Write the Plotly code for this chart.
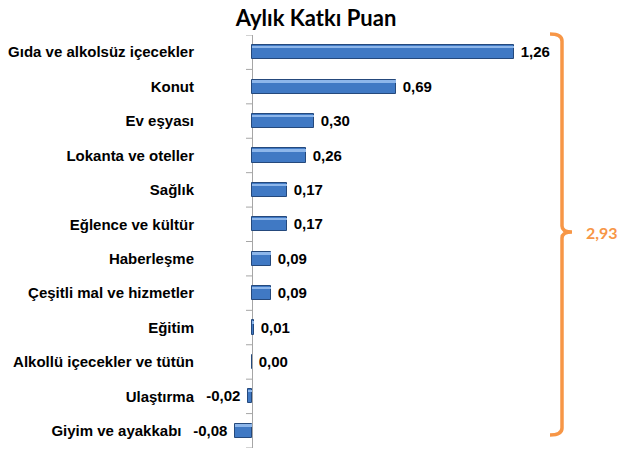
import plotly.graph_objects as go

categories = ["Gıda ve alkolsüz içecekler", "Konut", "Ev eşyası", "Lokanta ve oteller",
              "Sağlık", "Eğlence ve kültür", "Haberleşme", "Çeşitli mal ve hizmetler",
              "Eğitim", "Alkollü içecekler ve tütün", "Ulaştırma", "Giyim ve ayakkabı"]
values = [1.26, 0.69, 0.30, 0.26, 0.17, 0.17, 0.09, 0.09, 0.01, 0.00, -0.02, -0.08]
total_label = "2,93"
title_text = "Aylık Katkı Puan"

W, H = 623, 449
ML, MR, MT, MB = 205, 0, 35, 1
zero_px = 252
scale = 208.0
x_lo = -(zero_px - ML) / scale
x_hi = x_lo + (W - ML - MR) / scale

NB = "\u00a0"

def fmt(v):
    s = f"{v:.2f}".replace(".", ",")
    return s + NB if v < 0 else NB + s

idx = list(range(len(categories)))
labels = [fmt(v) for v in values]

# category labels next to wide negative data labels are pushed left (as Excel does)
tick_text = []
for c, v in zip(categories, values):
    pad = NB * 3 if v <= -0.05 else ""
    tick_text.append(f"<b>{c}</b>{pad}")

LBL_FONT = "Liberation Sans, Arial, sans-serif"

fig = go.Figure()
# main bar body
fig.add_trace(go.Bar(
    y=idx, x=values, orientation="h", width=0.41,
    marker=dict(color="#4079C4", line=dict(color="#25497C", width=1)),
    text=labels, textposition="outside", cliponaxis=False, constraintext="none",
    textfont=dict(family=LBL_FONT, size=15, color="#000000", weight="bold"),
    hoverinfo="skip", showlegend=False,
))
# top highlight band
fig.add_trace(go.Bar(
    y=idx, x=values, orientation="h", width=0.07, offset=-0.185,
    marker=dict(color="#8DB6EA", line=dict(width=0)),
    hoverinfo="skip", showlegend=False,
))

# category tick marks on the zero axis (between categories)
for k in range(len(categories) + 1):
    fig.add_shape(type="line", xref="x", yref="y", x0=-6 / scale, x1=0,
                  y0=k - 0.5, y1=k - 0.5, line=dict(color="#A6A6A6", width=1))

def px(xp, yp):
    return (xp - ML) / (W - ML - MR), (H - MB - yp) / (H - MT - MB)

pts = {
    "a": px(550, 34), "b": px(562, 34), "c": px(562, 41),
    "d": px(562, 226), "e": px(562, 232), "f": px(572, 232),
    "g": px(562, 238), "h": px(562, 428), "i": px(562, 435), "j": px(550, 435),
}
P = lambda k: f"{pts[k][0]:.5f},{pts[k][1]:.5f}"
path = (f"M {P('a')} Q {P('b')} {P('c')} L {P('d')} Q {P('e')} {P('f')} "
        f"Q {P('e')} {P('g')} L {P('h')} Q {P('i')} {P('j')}")
fig.add_shape(type="path", xref="paper", yref="paper", path=path,
              line=dict(color="#F79646", width=3.5))

tx, ty = px(602, 232)
fig.add_annotation(xref="paper", yref="paper", x=tx, y=ty, text=f"<b>{total_label}</b>",
                   showarrow=False, font=dict(family="Lato, Open Sans, sans-serif", size=16, color="#F79646"),
                   xanchor="center", yanchor="middle")

fig.update_layout(
    width=W, height=H, margin=dict(l=ML, r=MR, t=MT, b=MB),
    paper_bgcolor="white", plot_bgcolor="white",
    barmode="overlay", bargap=0,
    title=dict(text=f"<b>{title_text}</b>", x=316 / W, xanchor="center", y=1 - 18 / H, yanchor="middle",
               font=dict(family="Lato, Open Sans, sans-serif", size=22, color="#000000")),
    xaxis=dict(range=[x_lo, x_hi], showgrid=False, showticklabels=False, ticks="",
               zeroline=True, zerolinecolor="#A6A6A6", zerolinewidth=1, showline=False, fixedrange=True),
    yaxis=dict(range=[11.5, -0.5], tickmode="array", tickvals=idx, ticktext=tick_text,
               showgrid=False, zeroline=False, showline=False, ticks="", ticklabelstandoff=10,
               tickfont=dict(family=LBL_FONT, size=15, color="#000000"), fixedrange=True),
)

fig.write_html("out.html")
